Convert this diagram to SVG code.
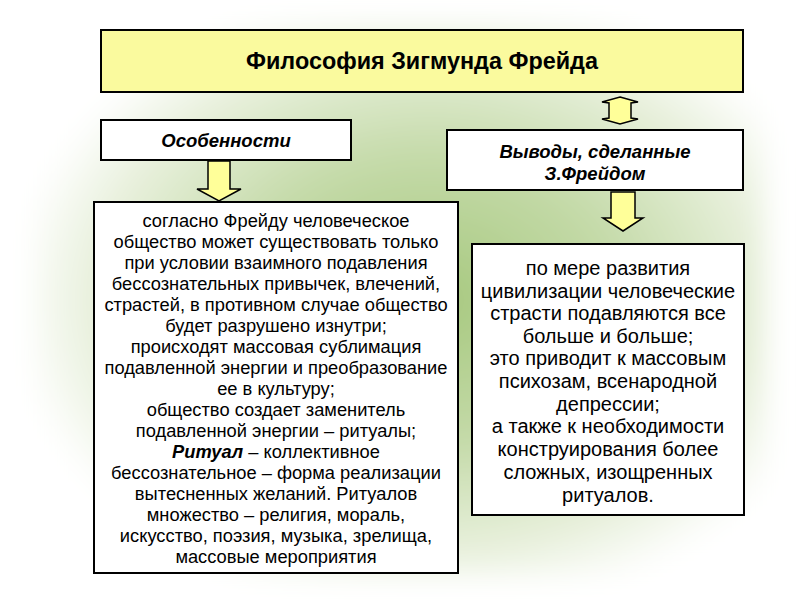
<svg xmlns="http://www.w3.org/2000/svg" width="800" height="600" viewBox="0 0 800 600">
<defs>
<radialGradient id="bg" cx="430" cy="300" r="420" gradientUnits="userSpaceOnUse" gradientTransform="translate(430 300) scale(1 0.75) translate(-430 -300)">
<stop offset="0" stop-color="#a6c87e"/>
<stop offset="0.45" stop-color="#c4daa8"/>
<stop offset="0.8" stop-color="#e8f0dc"/>
<stop offset="1" stop-color="#ffffff"/>
</radialGradient>
<filter id="blur" x="-10%" y="-10%" width="120%" height="120%"><feGaussianBlur stdDeviation="14"/></filter>
<style>
.box{fill:#ffffff;stroke:#000000;stroke-width:2}
.title{fill:#fafa9e;stroke:#000000;stroke-width:2}
.arrow{fill:#ffff99;stroke:#000000;stroke-width:1.5;stroke-linejoin:miter}
text{font-family:'Liberation Sans',Arial,sans-serif;fill:#000;text-anchor:middle}
.h{font-weight:bold;font-size:23.4px}
.hi{font-weight:bold;font-style:italic;font-size:18.5px}
.tl{font-size:18.3px}
.tr{font-size:20px}
</style>
</defs>
<rect x="0" y="0" width="800" height="600" fill="#ffffff"/>
<rect x="35" y="25" width="730" height="550" fill="url(#bg)" filter="url(#blur)"/>
<g id="connectors">
<polygon class="arrow" points="208,161 230,161 230,189 241,189 219,201 197,189 208,189"/>
<polygon class="arrow" points="611,192 635,192 635,218 643,218 623,231 603,218 611,218"/>
<polygon class="arrow" points="620,97 638,102 631,103 631,118 638,119 620,124 602,119 609,118 609,103 602,102"/>
</g>
<g id="title">
<rect class="title" x="101" y="30" width="642" height="62"/>
<text class="h" x="422" y="69">Философия Зигмунда Фрейда</text>
</g>
<g id="features">
<rect class="box" x="101" y="120" width="250" height="40"/>
<text class="hi" x="226" y="147">Особенности</text>
</g>
<g id="conclusions">
<rect class="box" x="447" y="130" width="296" height="60"/>
<text class="hi" x="595" y="158">Выводы, сделанные</text>
<text class="hi" x="595" y="180">З.Фрейдом</text>
</g>
<g id="features-text">
<rect class="box" x="94" y="202" width="364" height="371"/>
<text class="tl" x="276" y="227">согласно Фрейду человеческое</text>
<text class="tl" x="276" y="248">общество может существовать только</text>
<text class="tl" x="276" y="269">при условии взаимного подавления</text>
<text class="tl" x="276" y="290">бессознательных привычек, влечений,</text>
<text class="tl" x="276" y="311">страстей, в противном случае общество</text>
<text class="tl" x="276" y="332">будет разрушено изнутри;</text>
<text class="tl" x="276" y="353">происходят массовая сублимация</text>
<text class="tl" x="276" y="374">подавленной энергии и преобразование</text>
<text class="tl" x="276" y="395">ее в культуру;</text>
<text class="tl" x="276" y="416">общество создает заменитель</text>
<text class="tl" x="276" y="437">подавленной энергии – ритуалы;</text>
<text class="tl" x="276" y="458"><tspan font-weight="bold" font-style="italic">Ритуал</tspan> – коллективное</text>
<text class="tl" x="276" y="479">бессознательное – форма реализации</text>
<text class="tl" x="276" y="500">вытесненных желаний. Ритуалов</text>
<text class="tl" x="276" y="521">множество – религия, мораль,</text>
<text class="tl" x="276" y="542">искусство, поэзия, музыка, зрелища,</text>
<text class="tl" x="276" y="563">массовые мероприятия</text>
</g>
<g id="conclusions-text">
<rect class="box" x="472" y="244" width="272" height="271"/>
<text class="tr" x="608" y="275">по мере развития</text>
<text class="tr" x="608" y="298">цивилизации человеческие</text>
<text class="tr" x="608" y="320">страсти подавляются все</text>
<text class="tr" x="608" y="343">больше и больше;</text>
<text class="tr" x="608" y="365">это приводит к массовым</text>
<text class="tr" x="608" y="388">психозам, всенародной</text>
<text class="tr" x="608" y="411">депрессии;</text>
<text class="tr" x="608" y="433">а также к необходимости</text>
<text class="tr" x="608" y="456">конструирования более</text>
<text class="tr" x="608" y="479">сложных, изощренных</text>
<text class="tr" x="608" y="502">ритуалов.</text>
</g>
</svg>
